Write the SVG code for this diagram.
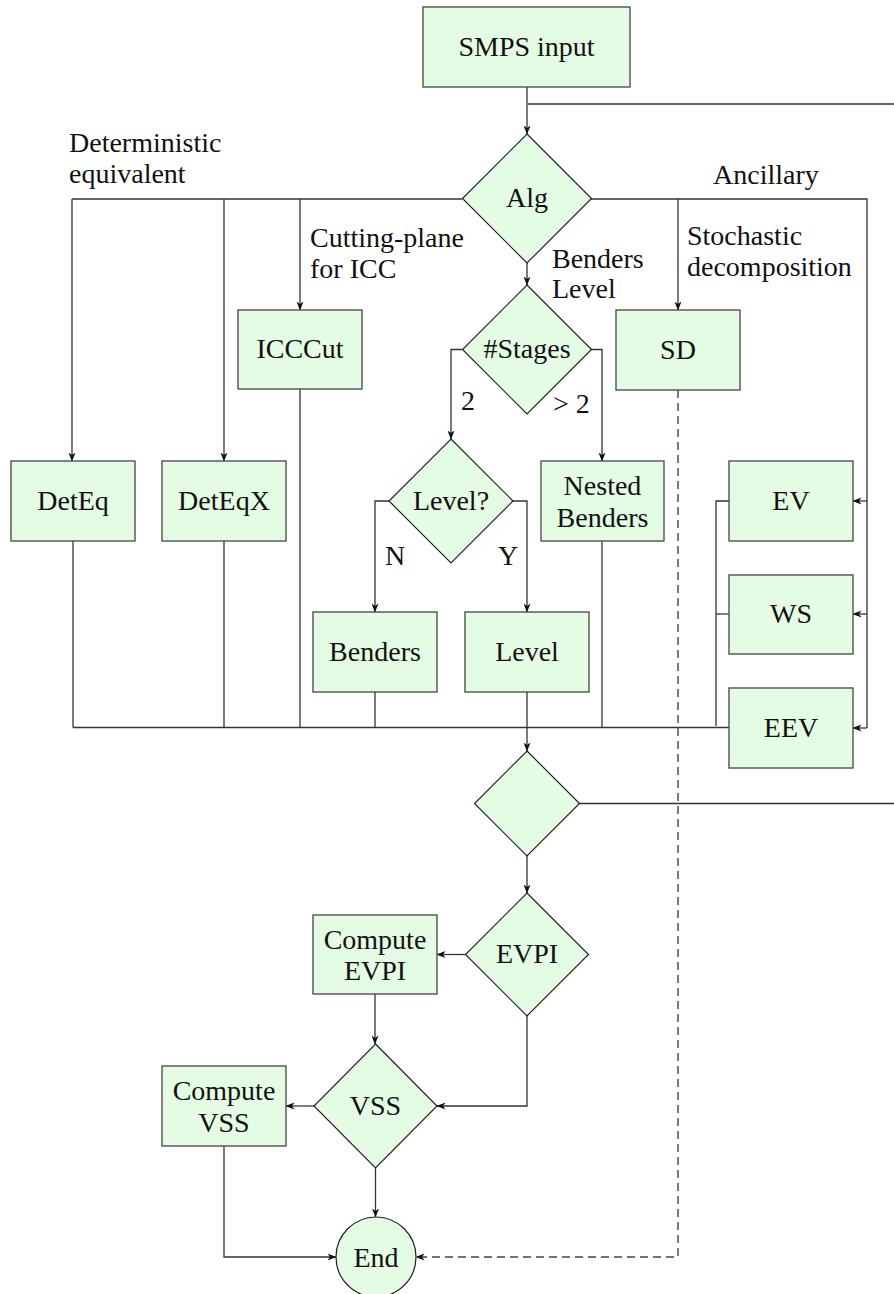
<svg xmlns="http://www.w3.org/2000/svg" width="894" height="1294" viewBox="0 0 894 1294">
<style>
.box{fill:#e4fce4;stroke:#444;stroke-width:1.3}
.dia{fill:#e4fce4;stroke:#222;stroke-width:1.2}
.t{font-family:'Liberation Serif','Times New Roman',Times,'DejaVu Serif',serif;font-size:28px;fill:#111;text-anchor:middle}
.l{font-family:'Liberation Serif','Times New Roman',Times,'DejaVu Serif',serif;font-size:28px;fill:#111;text-anchor:start}
.c{fill:none;stroke:#333;stroke-width:1.3}
.a{fill:none;stroke:#333;stroke-width:1.3;marker-end:url(#arr)}
.d{fill:none;stroke:#444;stroke-width:1.4;stroke-dasharray:8 5;marker-end:url(#arr)}
</style>
<defs>
<marker id="arr" markerWidth="9" markerHeight="8" refX="8.5" refY="4" orient="auto" markerUnits="userSpaceOnUse">
<path d="M0,0.5 L9,4 L0,7.5 L2.5,4 Z" fill="#111"/>
</marker>
</defs>
<rect width="894" height="1294" fill="#fff"/>

<g id="connectors">
<path class="a" d="M527,87 V134"/>
<path class="c" d="M528,104 H894"/>
<path class="c" d="M462,199 H72"/>
<path class="a" d="M72,199 V461"/>
<path class="a" d="M224,199 V461"/>
<path class="a" d="M300,199 V310"/>
<path class="c" d="M591,199 H867 V728"/>
<path class="a" d="M678,199 V310"/>
<path class="a" d="M867,501 H853"/>
<path class="a" d="M867,614 H853"/>
<path class="a" d="M867,728 H853"/>
<path class="a" d="M527,262 V285"/>
<path class="a" d="M462,349.5 H451 V439"/>
<path class="a" d="M591,349.5 H602 V461"/>
<path class="a" d="M389,501 H375 V612"/>
<path class="a" d="M513,501 H527 V612"/>
<path class="a" d="M527,692 V751"/>
<path class="c" d="M73,727.5 H729"/>
<path class="c" d="M73,541 V727.5"/>
<path class="c" d="M224,541 V727.5"/>
<path class="c" d="M300,389 V727.5"/>
<path class="c" d="M375,692 V727.5"/>
<path class="c" d="M602,541 V727.5"/>
<path class="c" d="M729,501 H716 V726"/>
<path class="c" d="M729,614 H716"/>
<path class="c" d="M579,803.5 H894"/>
<path class="a" d="M527,856 V893"/>
<path class="a" d="M465,954.5 H437"/>
<path class="a" d="M375,994 V1044"/>
<path class="a" d="M527,1016 V1106 H437"/>
<path class="a" d="M314,1106 H286"/>
<path class="a" d="M224,1146 V1257 H336"/>
<path class="a" d="M375.5,1168 V1217"/>
<path class="d" d="M678,390 V1257 H416"/>
</g>

<g id="labels">
<text class="l" x="69" y="152">Deterministic</text>
<text class="l" x="69" y="183">equivalent</text>
<text class="l" x="310" y="247">Cutting-plane</text>
<text class="l" x="310" y="278">for ICC</text>
<text class="l" x="552" y="268">Benders</text>
<text class="l" x="552" y="298">Level</text>
<text class="l" x="687" y="245">Stochastic</text>
<text class="l" x="687" y="276">decomposition</text>
<text class="l" x="713" y="184">Ancillary</text>
<text class="l" x="461" y="410">2</text>
<text class="l" x="553" y="413">&gt; 2</text>
<text class="l" x="385" y="565">N</text>
<text class="l" x="498" y="565">Y</text>
</g>

<g id="smps"><rect class="box" x="423" y="7" width="207" height="80"/><text class="t" x="526.5" y="56">SMPS input</text></g>
<g id="alg"><polygon class="dia" points="527,134 591.5,198.5 527,263 462.5,198.5"/><text class="t" x="527" y="207">Alg</text></g>
<g id="iccut"><rect class="box" x="238" y="310" width="124" height="79"/><text class="t" x="300" y="358">ICCCut</text></g>
<g id="sd"><rect class="box" x="616" y="310" width="124" height="80"/><text class="t" x="678" y="359">SD</text></g>
<g id="stages"><polygon class="dia" points="527,285 591.5,349.5 527,414 462.5,349.5"/><text class="t" x="527" y="358">#Stages</text></g>
<g id="detq"><rect class="box" x="11" y="461" width="124" height="80"/><text class="t" x="73" y="510">DetEq</text></g>
<g id="deteqx"><rect class="box" x="162" y="461" width="124" height="80"/><text class="t" x="224" y="510">DetEqX</text></g>
<g id="levelq"><polygon class="dia" points="451,439 513,501 451,563 389,501"/><text class="t" x="451" y="510">Level?</text></g>
<g id="nested"><rect class="box" x="541" y="461" width="123" height="80"/><text class="t" x="602.5" y="495">Nested</text><text class="t" x="602.5" y="526.5">Benders</text></g>
<g id="ev"><rect class="box" x="729" y="461" width="124" height="80"/><text class="t" x="791" y="510">EV</text></g>
<g id="ws"><rect class="box" x="729" y="575" width="124" height="79"/><text class="t" x="791" y="623">WS</text></g>
<g id="eev"><rect class="box" x="729" y="688" width="124" height="80"/><text class="t" x="791" y="737">EEV</text></g>
<g id="benders"><rect class="box" x="313" y="612" width="124" height="80"/><text class="t" x="375" y="661">Benders</text></g>
<g id="level"><rect class="box" x="465" y="612" width="124" height="80"/><text class="t" x="527" y="661">Level</text></g>
<g id="merge"><polygon class="dia" points="527,751 579.5,803.5 527,856 474.5,803.5"/></g>
<g id="evpi"><polygon class="dia" points="527,893 588.5,954.5 527,1016 465.5,954.5"/><text class="t" x="527" y="963">EVPI</text></g>
<g id="cevpi"><rect class="box" x="313" y="915" width="124" height="79"/><text class="t" x="375" y="948.5">Compute</text><text class="t" x="375" y="980">EVPI</text></g>
<g id="vss"><polygon class="dia" points="375.5,1044 437,1106 375.5,1168 314,1106"/><text class="t" x="375.5" y="1115">VSS</text></g>
<g id="cvss"><rect class="box" x="162" y="1066" width="124" height="80"/><text class="t" x="224" y="1100">Compute</text><text class="t" x="224" y="1131.5">VSS</text></g>
<g id="end"><circle class="dia" cx="376" cy="1257" r="40"/><text class="t" x="376" y="1267">End</text></g>
</svg>
